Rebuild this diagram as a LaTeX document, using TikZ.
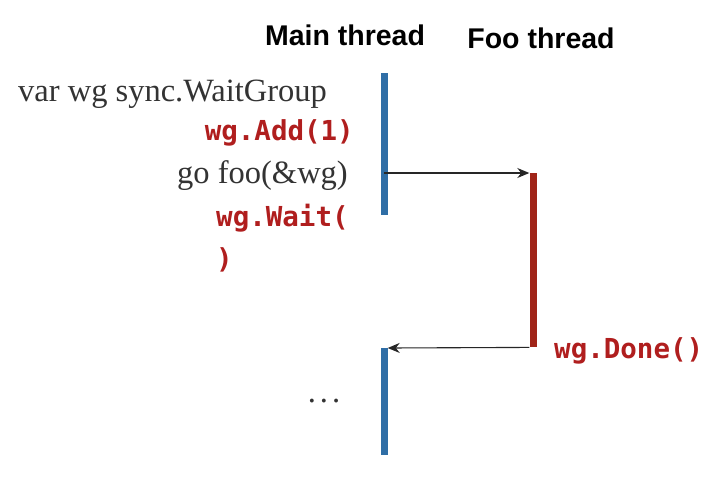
\documentclass[tikz,border=0pt]{standalone}
\usepackage{fontspec}
\setmainfont{Liberation Serif}
\newfontfamily\hdrfont{Liberation Sans}
\newfontfamily\codefont{DejaVu Sans Mono}
\usetikzlibrary{arrows.meta}
\definecolor{mainblue}{HTML}{2F6EA6}
\definecolor{foored}{HTML}{A02418}
\definecolor{codered}{HTML}{B01E1E}
\tikzset{
  hdr/.style={font=\hdrfont\bfseries\fontsize{28.5}{32}\selectfont, anchor=base, inner sep=0pt},
  serif/.style={font=\fontsize{32.5}{38}\selectfont, text=black!80, anchor=base, inner sep=0pt},
  code/.style={font=\codefont\bfseries\fontsize{27.5}{32}\selectfont, text=codered, anchor=base, inner sep=0pt},
  bar/.style={draw=none, inner sep=0pt, minimum width=7pt, anchor=north},
  msg/.style={line width=1.1pt, black!85, -{Stealth[length=12pt,width=10pt]}}
}
\begin{document}
\begin{tikzpicture}[x=1pt,y=-1pt]
\useasboundingbox[fill=white] (0,0) rectangle (714,480);
\node[hdr] (mh) at (345,45) {Main thread};
\node[hdr] (fh) at (541,48) {Foo thread};
\node[bar, fill=mainblue, minimum height=142pt] (m1) at (384,73) {};
\node[bar, fill=mainblue, minimum height=107pt] (m2) at (384,348) {};
\node[bar, fill=foored, minimum height=174pt] (f1) at (533,173) {};
\node[serif, anchor=base west] (v) at (18,101) {var wg sync.WaitGroup};
\node[code, anchor=base east] (add) at (354,140) {wg.Add(1)};
\node[serif, anchor=base east] (go) at (348,183) {go foo(\&wg)};
\node[code, anchor=base west] (wait) at (216,226) {wg.Wait(};
\node[code, anchor=base west] (wait2) at (216,268) {)};
\node[code, anchor=base west] (done) at (554,358) {wg.Done()};
\node[serif, anchor=base] (dots) at (324,402) {.\kern4pt.\kern4pt.};
\draw[msg] (m1.center |- f1.north) -- (f1.north west);
\draw[msg] (f1.south west) -- (m2.north east);
\end{tikzpicture}
\end{document}
